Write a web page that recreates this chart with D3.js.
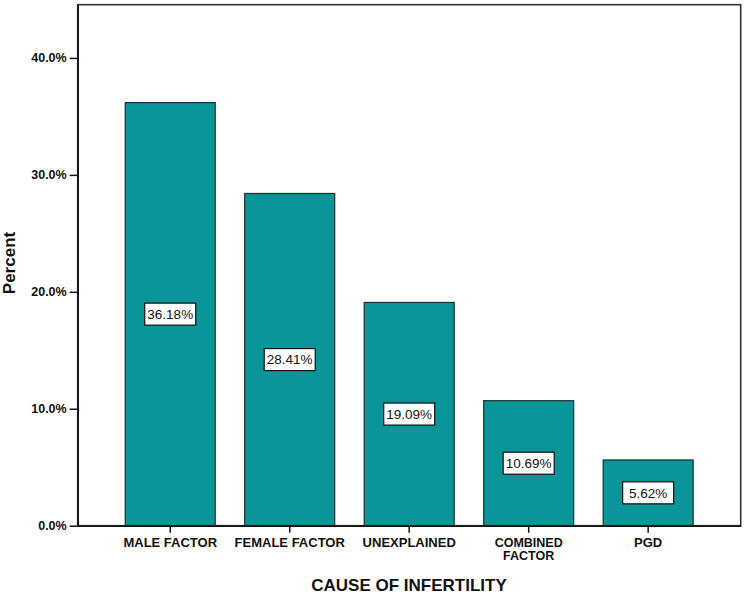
<!DOCTYPE html>
<html><head><meta charset="utf-8">
<script src="https://cdn.jsdelivr.net/npm/d3@7"></script>
<style>body{margin:0;background:#fff}svg{display:block}</style>
</head><body>
<svg id="c" width="746" height="595"></svg>
<script>
const categories = ["MALE FACTOR","FEMALE FACTOR","UNEXPLAINED","COMBINED FACTOR","PGD"];
const tickLines = [["MALE FACTOR"],["FEMALE FACTOR"],["UNEXPLAINED"],["COMBINED","FACTOR"],["PGD"]];
const values = [36.18, 28.41, 19.09, 10.69, 5.62];
const yTicks = [0, 10, 20, 30, 40];

const svg = d3.select("#c");
const L = 77.7, R = 740.7, T = 4.7, B = 525.7;
const x = d3.scaleBand().domain(categories).range([L, R]).paddingInner(0.247).paddingOuter(0.398);
const y = d3.scaleLinear().domain([0, 44.55]).range([B, T]);
const font = "Arial, 'Liberation Sans', sans-serif";

// bars
svg.selectAll("rect.bar").data(values).enter().append("rect").attr("class","bar")
  .attr("x", (d,i) => x(categories[i])).attr("width", x.bandwidth())
  .attr("y", d => y(d)).attr("height", d => B - y(d))
  .attr("fill", "#0a9599").attr("stroke", "#1b2e2e").attr("stroke-width", 1.2);

// frame
svg.append("rect").attr("x", L).attr("y", T).attr("width", R - L).attr("height", B - T)
  .attr("fill", "none").attr("stroke", "#333").attr("stroke-width", 1.6);

// y axis
const ya = svg.append("g").attr("transform", `translate(${L},0)`)
  .call(d3.axisLeft(y).tickValues(yTicks).tickSize(8).tickSizeOuter(0).tickPadding(3).tickFormat(d => d.toFixed(1) + "%"));
ya.select(".domain").attr("stroke", "#111").attr("stroke-width", 1.6);
ya.selectAll(".tick line").attr("stroke", "#111").attr("stroke-width", 1.5);
ya.selectAll(".tick text").attr("font-family", font).attr("font-size", 12.5).attr("font-weight", "bold").attr("fill", "#111");

// x axis
const xa = svg.append("g").attr("transform", `translate(0,${B})`)
  .call(d3.axisBottom(x).tickSize(7).tickSizeOuter(0).tickFormat(""));
xa.select(".domain").attr("stroke", "#111").attr("stroke-width", 1.6);
xa.selectAll(".tick line").attr("stroke", "#111").attr("stroke-width", 1.5);
xa.selectAll(".tick").each(function(d, i) {
  const lines = tickLines[i];
  lines.forEach((ln, j) => d3.select(this).append("text").attr("font-family", font)
    .attr("font-size", lines.length > 1 ? 12.5 : 13)
    .attr("font-weight", "bold").attr("fill", "#111").attr("text-anchor", "middle")
    .attr("x", 0).attr("y", 21 + j * 13.5).text(ln));
});

// value labels
const lg = svg.selectAll("g.lbl").data(values).enter().append("g").attr("class","lbl")
  .attr("transform", (d,i) => `translate(${x(categories[i]) + x.bandwidth()/2},${(y(d) + B)/2})`);
lg.append("rect").attr("x", -25.5).attr("y", -11).attr("width", 51).attr("height", 22)
  .attr("fill", "#fff").attr("stroke", "#111").attr("stroke-width", 1.2);
lg.append("text").attr("text-anchor", "middle").attr("dy", "0.35em").attr("y", 0)
  .attr("font-family", font).attr("font-size", 13.5).attr("fill", "#111")
  .text(d => d.toFixed(2) + "%");

// axis titles
svg.append("text").attr("transform", "translate(15,263) rotate(-90)").attr("text-anchor", "middle")
  .attr("font-family", font).attr("font-size", 17).attr("font-weight", "bold").attr("fill", "#111").text("Percent");
svg.append("text").attr("x", 409).attr("y", 591).attr("text-anchor", "middle")
  .attr("font-family", font).attr("font-size", 17).attr("font-weight", "bold").attr("fill", "#111").text("CAUSE OF INFERTILITY");
</script>
</body></html>
